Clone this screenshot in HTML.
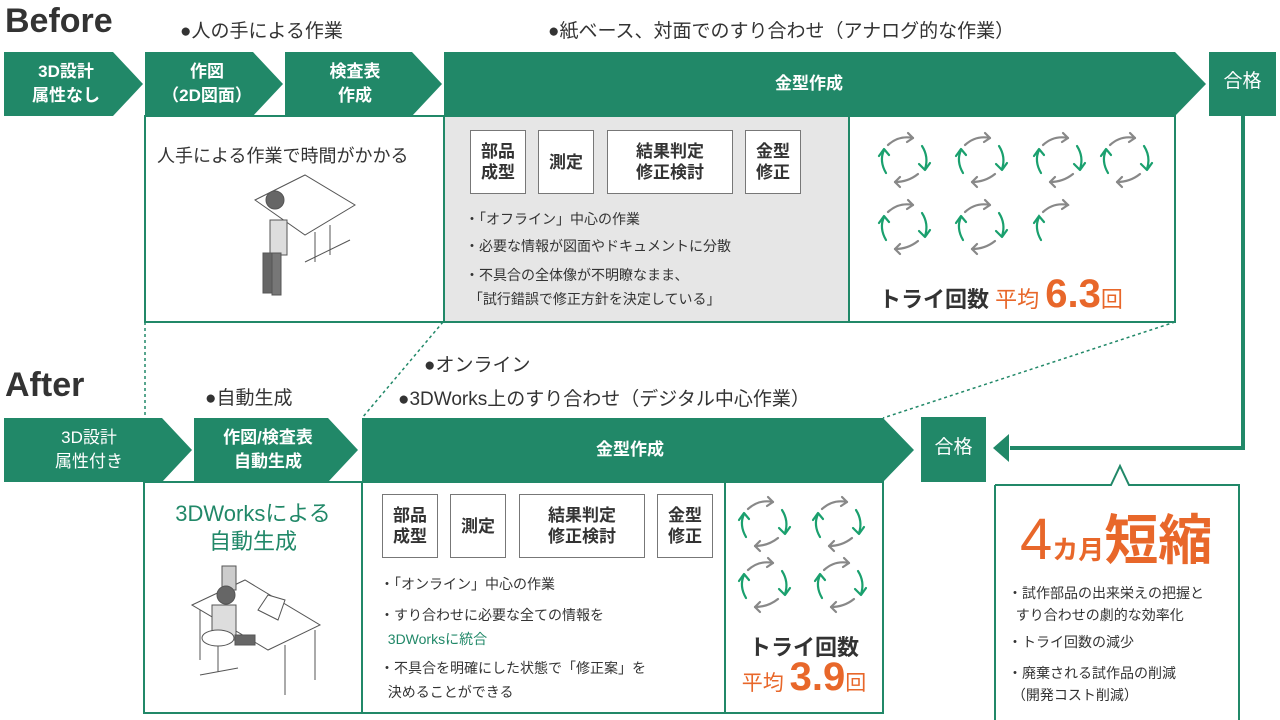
<!DOCTYPE html>
<html><head><meta charset="utf-8">
<style>
body{margin:0;width:1280px;height:720px;overflow:hidden;background:#fff;font-family:"Liberation Sans","Noto Sans CJK JP",sans-serif;color:#333;position:relative}
.a{position:absolute;white-space:nowrap}
.w{color:#fff;font-weight:bold;text-align:center;line-height:24px;font-size:17px}
.sb{position:absolute;border:1.5px solid #777;background:#fff;font-weight:bold;font-size:17px;line-height:21px;display:flex;align-items:center;justify-content:center;text-align:center;color:#333;box-sizing:border-box}
.bl{font-size:14px;color:#333}
.t{font-size:19px;color:#333}
</style></head><body>
<svg width="1280" height="720" style="position:absolute;left:0;top:0">
<defs>
<g id="cyc" fill="none" stroke-width="2.2" stroke-linecap="round" stroke-linejoin="round">
<path d="M-17,-15 Q-6,-25 8,-22" stroke="#888"/><path d="M3,-27 L8,-22 L2,-18" stroke="#888"/>
<path d="M17,-14 Q24,-3 20,9" stroke="#1aa06e"/><path d="M14,4 L20,10 L25,3" stroke="#1aa06e"/>
<path d="M13,14 Q3,22 -10,22" stroke="#888"/><path d="M-5,17 L-10,22 L-5,27" stroke="#888"/>
<path d="M-19,13 Q-26,1 -21,-10" stroke="#1aa06e"/><path d="M-26,-4 L-21,-11 L-16,-5" stroke="#1aa06e"/>
</g>
</defs>
<g fill="#218868">
<polygon points="4,52 113,52 143,84 113,116 4,116"/>
<polygon points="145,52 253,52 283,84 253,116 145,116"/>
<polygon points="285,52 412,52 442,84 412,116 285,116"/>
<polygon points="444,52 1175,52 1206,84 1175,116 444,116"/>
<rect x="1209" y="52" width="67" height="64"/>
<polygon points="4,418 162,418 192,450 162,482 4,482"/>
<polygon points="194,418 328,418 358,450 328,482 194,482"/>
<polygon points="362,418 883,418 914,450 883,482 362,482"/>
<rect x="921" y="417" width="65" height="65"/>
</g>
<rect x="444" y="116" width="405" height="206" fill="#e6e6e6"/>
<g fill="none" stroke="#218868" stroke-width="2">
<rect x="145" y="116" width="299" height="206"/>
<rect x="444" y="116" width="405" height="206"/>
<rect x="849" y="116" width="326" height="206"/>
<rect x="144" y="482" width="218" height="231"/>
<rect x="362" y="482" width="363" height="231"/>
<rect x="725" y="482" width="158" height="231"/>
<polyline points="1243,116 1243,448 1010,448" stroke-width="4"/>
<path d="M995,485 H1111 L1120,466 L1129,485 H1239 V720 M995,485 V720"/>
</g>
<polygon points="993,448 1009,434 1009,462" fill="#218868"/>
<g stroke="#218868" stroke-width="1.5" stroke-dasharray="3,3" fill="none">
<line x1="145" y1="322" x2="145" y2="418"/>
<line x1="443" y1="322" x2="362" y2="418"/>
<line x1="1175" y1="322" x2="883" y2="418"/>
</g>
<use href="#cyc" x="905" y="160"/><use href="#cyc" x="982" y="160"/><use href="#cyc" x="1060" y="160"/><use href="#cyc" x="1127" y="160"/>
<use href="#cyc" x="905" y="227"/><use href="#cyc" x="982" y="227"/>
<g fill="none" stroke-width="2.2" stroke-linecap="round">
<path d="M1043,212 Q1054,202 1068,205" stroke="#888"/><path d="M1063,200 L1068,205 L1062,209" stroke="#888"/>
<path d="M1041,240 Q1034,228 1039,217" stroke="#1aa06e"/><path d="M1034,223 L1039,216 L1044,222" stroke="#1aa06e"/>
</g>
<use href="#cyc" x="765" y="524"/><use href="#cyc" x="839" y="524"/>
<use href="#cyc" x="765" y="585"/><use href="#cyc" x="841" y="585"/>
<g stroke="#555" stroke-width="1" fill="#fff">
<polygon points="255,200 305,175 355,205 305,235"/>
<line x1="315" y1="232" x2="315" y2="262"/><line x1="330" y1="225" x2="330" y2="255"/>
<line x1="305" y1="262" x2="350" y2="240"/>
<rect x="270" y="220" width="17" height="35" fill="#ddd"/>
<circle cx="275" cy="200" r="9" fill="#666"/>
<rect x="263" y="253" width="9" height="40" fill="#666"/><rect x="272" y="253" width="9" height="42" fill="#777"/>
</g>
<g stroke="#555" stroke-width="1" fill="#fff">
<polygon points="192,605 245,580 320,625 268,650"/>
<line x1="200" y1="610" x2="200" y2="660"/><line x1="285" y1="645" x2="285" y2="695"/><line x1="315" y1="630" x2="315" y2="680"/>
<polygon points="258,610 268,595 285,600 278,620" />
<rect x="222" y="566" width="14" height="24" fill="#ccc"/>
<circle cx="226" cy="595" r="9" fill="#666"/>
<rect x="212" y="605" width="24" height="35" fill="#ddd"/>
<ellipse cx="218" cy="638" rx="16" ry="8"/>
<rect x="235" y="635" width="20" height="10" fill="#666"/>
<line x1="218" y1="646" x2="218" y2="672"/><line x1="200" y1="675" x2="238" y2="668"/>
</g>
</svg>

<div class="a" style="left:5px;top:2px;font-size:34px;font-weight:bold;color:#333">Before</div>
<div class="a" style="left:5px;top:366px;font-size:34px;font-weight:bold;color:#333">After</div>
<div class="a t" style="left:180px;top:16px">●人の手による作業</div>
<div class="a t" style="left:548px;top:16px">●紙ベース、対面でのすり合わせ（アナログ的な作業）</div>
<div class="a t" style="left:205px;top:383px">●自動生成</div>
<div class="a t" style="left:424px;top:350px">●オンライン</div>
<div class="a t" style="left:398px;top:384px">●3DWorks上のすり合わせ（デジタル中心作業）</div>

<div class="a w" style="left:4px;top:60px;width:124px">3D設計<br>属性なし</div>
<div class="a w" style="left:145px;top:60px;width:124px">作図<br>（2D図面）</div>
<div class="a w" style="left:285px;top:60px;width:140px">検査表<br>作成</div>
<div class="a w" style="left:444px;top:72px;width:730px">金型作成</div>
<div class="a w" style="left:1209px;top:70px;width:67px;font-weight:normal;font-size:19px">合格</div>
<div class="a w" style="left:4px;top:426px;width:170px;font-weight:normal">3D設計<br>属性付き</div>
<div class="a w" style="left:194px;top:426px;width:148px">作図/検査表<br>自動生成</div>
<div class="a w" style="left:362px;top:438px;width:536px">金型作成</div>
<div class="a w" style="left:921px;top:436px;width:65px;font-weight:normal;font-size:19px">合格</div>

<div class="a" style="left:157px;top:142px;font-size:18px">人手による作業で時間がかかる</div>

<div class="sb" style="left:470px;top:130px;width:56px;height:64px">部品<br>成型</div>
<div class="sb" style="left:538px;top:130px;width:56px;height:64px">測定</div>
<div class="sb" style="left:607px;top:130px;width:126px;height:64px">結果判定<br>修正検討</div>
<div class="sb" style="left:745px;top:130px;width:56px;height:64px">金型<br>修正</div>
<div class="a bl" style="left:465px;top:209px">・「オフライン」中心の作業</div>
<div class="a bl" style="left:465px;top:236px">・必要な情報が図面やドキュメントに分散</div>
<div class="a bl" style="left:465px;top:263px;line-height:24px">・不具合の全体像が不明瞭なまま、<br>&nbsp;「試行錯誤で修正方針を決定している」</div>
<div class="a" style="left:879px;top:272px;font-size:22px;font-weight:bold;color:#333">トライ回数 <span style="color:#e8672a;font-weight:normal">平均 <span style="font-size:40px;font-weight:bold">6.3</span>回</span></div>

<div class="a" style="left:144px;top:500px;width:218px;text-align:center;font-size:22px;color:#218868;line-height:28px">3DWorksによる<br>自動生成</div>

<div class="sb" style="left:382px;top:494px;width:56px;height:64px">部品<br>成型</div>
<div class="sb" style="left:450px;top:494px;width:56px;height:64px">測定</div>
<div class="sb" style="left:519px;top:494px;width:126px;height:64px">結果判定<br>修正検討</div>
<div class="sb" style="left:657px;top:494px;width:56px;height:64px">金型<br>修正</div>
<div class="a bl" style="left:380px;top:574px">・「オンライン」中心の作業</div>
<div class="a bl" style="left:380px;top:603px;line-height:24px">・すり合わせに必要な全ての情報を<br>&nbsp;&nbsp;<span style="color:#218868">3DWorksに統合</span></div>
<div class="a bl" style="left:380px;top:656px;line-height:24px">・不具合を明確にした状態で「修正案」を<br>&nbsp;&nbsp;決めることができる</div>
<div class="a" style="left:725px;top:630px;width:158px;text-align:center;font-size:22px;font-weight:bold;color:#333">トライ回数</div>
<div class="a" style="left:720px;top:655px;width:168px;text-align:center;color:#e8672a;font-size:21px">平均 <span style="font-size:40px;font-weight:bold">3.9</span>回</div>

<div class="a" style="left:1020px;top:496px;color:#e8672a;font-weight:bold"><span style="font-size:58px;font-weight:normal">4</span><span style="font-size:26px">カ月</span><span style="font-size:54px">短縮</span></div>
<div class="a bl" style="left:1008px;top:582px;line-height:22px">・試作部品の出来栄えの把握と<br>&nbsp;&nbsp;すり合わせの劇的な効率化</div>
<div class="a bl" style="left:1008px;top:632px">・トライ回数の減少</div>
<div class="a bl" style="left:1008px;top:662px;line-height:22px">・廃棄される試作品の削減<br>&nbsp;（開発コスト削減）</div>
</body></html>
